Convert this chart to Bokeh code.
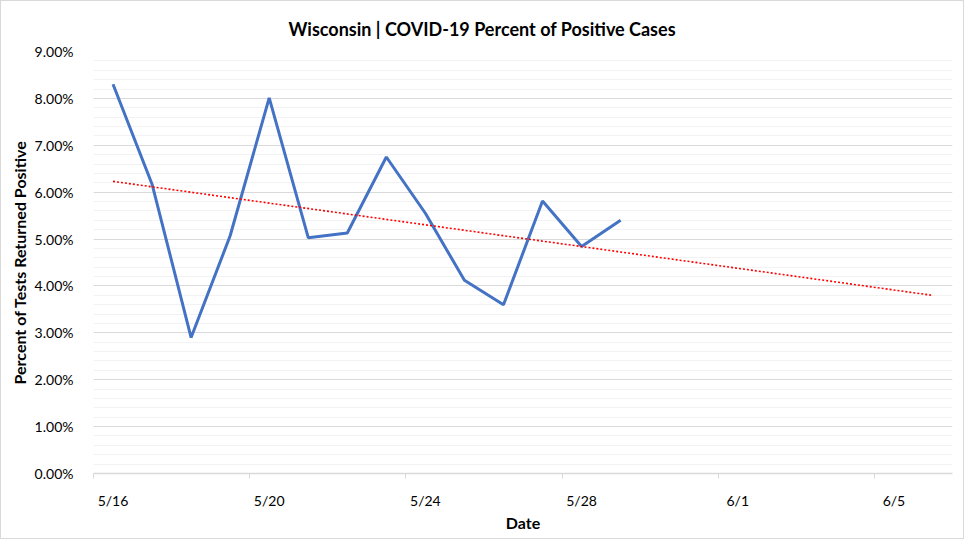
import numpy as np
from bokeh.plotting import figure
from bokeh.models import FixedTicker, Title, Range1d, CustomJSTickFormatter
from bokeh.embed import file_html
from bokeh.resources import INLINE

# ---- data ----
dates = ["5/16", "5/17", "5/18", "5/19", "5/20", "5/21", "5/22",
         "5/23", "5/24", "5/25", "5/26", "5/27", "5/28", "5/29"]
pct_positive = [8.30, 6.17, 2.90, 5.07, 8.01, 5.03, 5.13,
                6.75, 5.55, 4.12, 3.60, 5.81, 4.84, 5.40]  # percent
tick_labels = ["5/16", "5/20", "5/24", "5/28", "6/1", "6/5"]
forecast_days = 8
axis_days = 22

FONT = "Lato"

x = np.arange(len(pct_positive)) + 0.5  # day centers
y = np.array(pct_positive) / 100.0

coef = np.polyfit(np.arange(len(y)), y, 1)
xt = np.array([0, len(y) - 1 + forecast_days])
yt = np.polyval(coef, xt)

p = figure(width=964, height=539, output_backend="svg", toolbar_location=None,
           x_range=Range1d(0, axis_days), y_range=Range1d(0, 0.09),
           min_border_left=92, min_border_right=13, min_border_top=50,
           min_border_bottom=67)
p.styles = {"border": "1px solid #d9d9d9"}

p.outline_line_color = None
p.background_fill_color = "white"
p.border_fill_color = "white"

# gridlines
p.ygrid.ticker = FixedTicker(ticks=[i / 100 for i in range(0, 10)],
                             minor_ticks=[i / 500 for i in range(0, 46)])
p.ygrid.grid_line_color = "#d9d9d9"
p.ygrid.grid_line_width = 1
p.ygrid.minor_grid_line_color = "#f2f2f2"
p.ygrid.minor_grid_line_width = 1
p.xgrid.grid_line_color = None

# y axis
p.yaxis.ticker = FixedTicker(ticks=[i / 100 for i in range(0, 10)])
p.yaxis.formatter = CustomJSTickFormatter(code="return (tick*100).toFixed(2) + '%';")
p.yaxis.axis_line_color = None
p.yaxis.major_tick_line_color = None
p.yaxis.minor_tick_line_color = None
p.yaxis.major_label_text_font = FONT
p.yaxis.major_label_text_font_size = "14px"
p.yaxis.major_label_text_color = "#000000"
p.yaxis.major_label_standoff = 14
p.yaxis.axis_label = "Percent of Tests Returned Positive"
p.yaxis.axis_label_text_font = FONT
p.yaxis.axis_label_text_font_size = "16px"
p.yaxis.axis_label_text_font_style = "bold"
p.yaxis.axis_label_text_color = "#000000"
p.yaxis.axis_label_standoff = 3

# x axis: labels centred in day intervals, tick marks at boundaries
label_pos = [i * 4 + 0.5 for i in range(len(tick_labels))]
p.xaxis.ticker = FixedTicker(ticks=label_pos,
                             minor_ticks=[i * 4 for i in range(len(tick_labels))])
p.xaxis.major_label_overrides = {pos: lab for pos, lab in zip(label_pos, tick_labels)}
p.xaxis.axis_line_color = "#d9d9d9"
p.xaxis.axis_line_width = 1.5
p.xaxis.major_tick_line_color = None
p.xaxis.minor_tick_line_color = "#d9d9d9"
p.xaxis.minor_tick_out = 5
p.xaxis.minor_tick_in = 0
p.xaxis.major_label_text_font = FONT
p.xaxis.major_label_text_font_size = "14px"
p.xaxis.major_label_text_color = "#000000"
p.xaxis.major_label_standoff = 12
p.xaxis.axis_label = "Date"
p.xaxis.axis_label_text_font = FONT
p.xaxis.axis_label_text_font_size = "16px"
p.xaxis.axis_label_text_font_style = "bold"
p.xaxis.axis_label_text_color = "#000000"
p.xaxis.axis_label_standoff = 1

# series
p.line(x, y, line_color="#4472C4", line_width=3)
p.line(xt + 0.5, yt, line_color="#FF0000", line_width=1.6, line_dash="2 2")

# title
t = Title(text="Wisconsin | COVID-19 Percent of Positive Cases", align="left",
          offset=195, text_font=FONT, text_font_size="18px", text_font_style="bold",
          text_color="#000000", standoff=24)
p.add_layout(t, "above")

open("out.html", "w").write(file_html(p, INLINE))
